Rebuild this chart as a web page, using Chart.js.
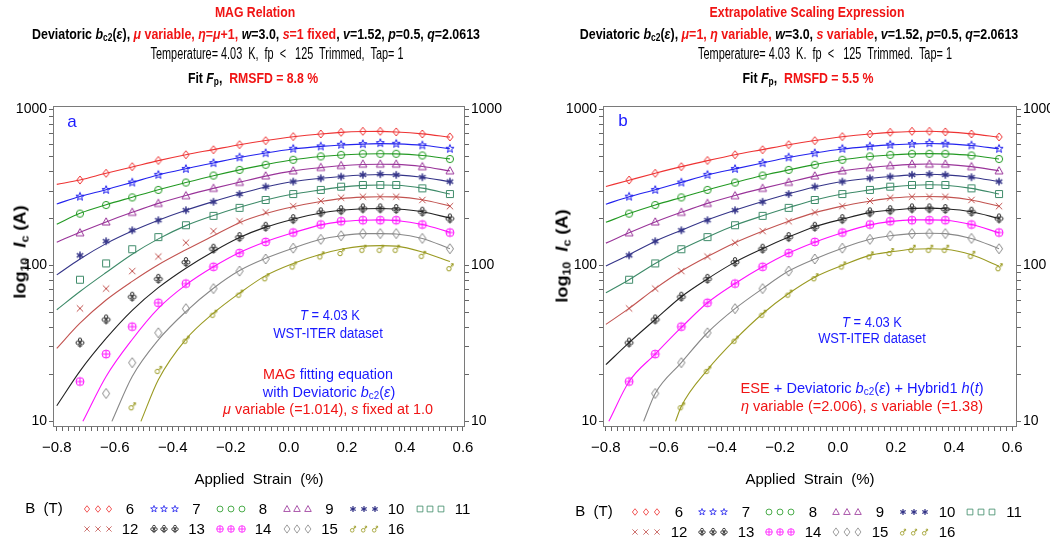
<!DOCTYPE html>
<html>
<head>
<meta charset="utf-8">
<script src="https://cdn.jsdelivr.net/npm/chart.js@4.4.0/dist/chart.umd.min.js"></script>
<style>
body { margin: 0; background: #fff; width: 1050px; height: 541px; position: relative; overflow: hidden;
       font-family: "Liberation Sans", Arial, sans-serif; color: #000; }
canvas { position: absolute; top: 0; }
.t { position: absolute; white-space: nowrap; line-height: 1; }
.b { font-weight: bold; }
.r { color: #f01414; }
.bl { color: #1a1aff; }
sub { font-size: 68%; vertical-align: -0.25em; line-height: 0; }
</style>
</head>
<body>
<canvas id="panelA" width="525" height="541" style="left:0"></canvas>
<canvas id="panelB" width="525" height="541" style="left:525px"></canvas>

<!-- panel a titles -->
<div class="t b r" data-x="255" data-y="11" data-w="80" style="font-size:15px">MAG Relation</div>
<div class="t b" data-x="256" data-y="33" data-w="448" style="font-size:15px">Deviatoric <i>b</i><sub>c2</sub>(<i>ε</i>), <span class="r"><i>μ</i> variable, <i>η</i>=<i>μ</i>+1,</span> <i>w</i>=3.0, <span class="r"><i>s</i>=1 fixed</span>, <i>v</i>=1.52, <i>p</i>=0.5, <i>q</i>=2.0613</div>
<div class="t" data-x="277" data-y="54" data-w="253" style="font-size:16px">Temperature= 4.03&nbsp; K,&nbsp; fp&nbsp; &lt;&nbsp;&nbsp; 125&nbsp; Trimmed,&nbsp; Tap= 1</div>
<div class="t b" data-x="253" data-y="77" data-w="130" style="font-size:15px">Fit <i>F</i><sub>p</sub>,&nbsp; <span class="r">RMSFD = 8.8 %</span></div>

<!-- panel b titles -->
<div class="t b r" data-x="807" data-y="11" data-w="195" style="font-size:15px">Extrapolative Scaling Expression</div>
<div class="t b" data-x="799" data-y="33" data-w="438" style="font-size:15px">Deviatoric <i>b</i><sub>c2</sub>(<i>ε</i>), <span class="r"><i>μ</i>=1, <i>η</i> variable,</span> <i>w</i>=3.0, <span class="r"><i>s</i> variable</span>, <i>v</i>=1.52, <i>p</i>=0.5, <i>q</i>=2.0613</div>
<div class="t" data-x="825" data-y="54" data-w="254" style="font-size:16px">Temperature= 4.03&nbsp; K.&nbsp; fp&nbsp; &lt;&nbsp;&nbsp; 125&nbsp; Trimmed.&nbsp; Tap= 1</div>
<div class="t b" data-x="808" data-y="77" data-w="131" style="font-size:15px">Fit <i>F</i><sub>p</sub>,&nbsp; <span class="r">RMSFD = 5.5 %</span></div>

<!-- y axis titles -->
<div class="t b" data-x="20" data-y="252" data-w="93" data-rot="1" style="font-size:17px">log<sub>10</sub>&nbsp; <i>I</i><sub>c</sub> (A)</div>
<div class="t b" data-x="562" data-y="256" data-w="93" data-rot="1" style="font-size:17px">log<sub>10</sub>&nbsp; <i>I</i><sub>c</sub> (A)</div>

<!-- panel labels and notes -->
<div class="t bl" data-x="72" data-y="121" style="font-size:17px">a</div>
<div class="t bl" data-x="623" data-y="120" style="font-size:17px">b</div>

<div class="t bl" data-x="330" data-y="315" data-w="60" style="font-size:14px"><i>T</i> = 4.03 K</div>
<div class="t bl" data-x="328" data-y="333" data-w="110" style="font-size:14px">WST-ITER dataset</div>
<div class="t bl" data-x="328" data-y="373" data-w="130" style="font-size:15px"><span class="r">MAG</span> fitting equation</div>
<div class="t bl" data-x="329" data-y="391" data-w="132" style="font-size:15px">with Deviatoric <i>b</i><sub>c2</sub>(<i>ε</i>)</div>
<div class="t r" data-x="328" data-y="408" data-w="210" style="font-size:15px"><i>μ</i> variable (=1.014), <i>s</i> fixed at 1.0</div>

<div class="t bl" data-x="872" data-y="322" data-w="60" style="font-size:14px"><i>T</i> = 4.03 K</div>
<div class="t bl" data-x="872" data-y="338" data-w="108" style="font-size:14px">WST-ITER dataset</div>
<div class="t bl" data-x="862" data-y="387" data-w="243" style="font-size:15px"><span class="r">ESE</span> + Deviatoric <i>b</i><sub>c2</sub>(<i>ε</i>) + Hybrid1 <i>h</i>(<i>t</i>)</div>
<div class="t r" data-x="862" data-y="405" data-w="242" style="font-size:15px"><i>η</i> variable (=2.006), <i>s</i> variable (=1.38)</div>

<script>
// applied strain (%) of the measured points
const strain = [-0.72, -0.63, -0.54, -0.45, -0.355, -0.26, -0.17, -0.08, 0.015, 0.11, 0.18, 0.255, 0.315, 0.37, 0.46, 0.555];
const fields = [6, 7, 8, 9, 10, 11, 12, 13, 14, 15, 16];

// measured Ic (A) per field (T)
const ic6  = [353, 390, 430, 471, 513, 552, 595, 631, 670, 697, 714, 725, 725, 718, 697, 667];
const ic7  = [276, 305, 340, 381, 416, 453, 493, 525, 560, 580, 594, 600, 609, 603, 589, 560];
const ic8  = [215, 244, 273, 305, 340, 377, 410, 442, 476, 500, 512, 520, 520, 520, 507, 481];
const ic9  = [162, 190, 219, 250, 280, 312, 341, 375, 404, 425, 437, 446, 446, 446, 430, 404];
const ic10 = [116, 143, 168, 195, 226, 256, 287, 320, 345, 362, 371, 381, 385, 381, 368, 345];
const ic11 = [81, 103, 127, 152, 181, 208, 234, 263, 287, 305, 320, 328, 328, 328, 312, 287];
const ic12 = [53, 71, 92, 114, 140, 166, 192, 219, 240, 259, 272, 276, 276, 276, 263, 240];
const ic13 = [32, 45, 63, 82, 105, 128, 152, 177, 198, 219, 226, 232, 232, 230, 221, 200];
const ic14 = [18, 27, 40.5, 57.6, 76.5, 98, 120, 141.5, 162.5, 183, 192, 195, 195, 195, 183, 162.5];
const ic15 = [null, 15.1, 23.8, 37, 52.8, 71, 92, 110, 129, 147, 155, 160, 160, 160, 149, 128];
const ic16 = [null, null, 12.5, 21.4, 33.4, 49, 66, 84, 100, 116, 122, 128, 128, 128, 117, 97.5];

// fitted curves: first value sits at the line's start strain, the rest at the strains above
const startA = [-0.8, -0.8, -0.8, -0.8, -0.8, -0.8, -0.8, -0.8, -0.71, -0.61, -0.51];
const fitA6  = [331, 353, 390, 428, 470, 513, 553, 594, 632, 668, 697, 713, 722, 724, 718, 698, 665];
const fitA7  = [248, 277, 306, 341, 380, 417, 454, 492, 526, 558, 580, 592, 600, 604, 602, 590, 560];
const fitA8  = [184, 216, 245, 274, 306, 340, 376, 410, 443, 476, 499, 511, 518, 520, 519, 507, 482];
const fitA9  = [141, 163, 190, 219, 250, 281, 312, 342, 374, 404, 424, 436, 444, 446, 445, 431, 404];
const fitA10 = [87, 110, 138, 166, 195, 226, 257, 288, 318, 345, 362, 372, 380, 383, 381, 368, 344];
const fitA11 = [52, 68, 90, 118, 148, 180, 209, 236, 263, 287, 305, 318, 326, 328, 327, 313, 287];
const fitA12 = [29.4, 42.6, 60, 79, 101, 126, 155, 188, 215, 238, 257, 268, 274, 276, 275, 264, 241];
const fitA13 = [12.6, 21, 34, 51.5, 72, 96, 123, 151, 176, 198, 217, 226, 231, 232, 230, 221, 201];
const fitA14 = [10, null, 19.4, 33.5, 53, 75, 98, 121, 142, 162, 182, 191, 195, 196, 194, 183, 163];
const fitA15 = [10, null, null, 19.4, 33.3, 50.6, 71.4, 92.7, 111, 129, 147, 155, 160, 160, 159, 149, 128];
const fitA16 = [10, null, null, null, 18.5, 33.6, 49.4, 66.4, 86, 103, 118, 127, 133, 134, 133, 122, 106];

const startB = [-0.8, -0.8, -0.8, -0.8, -0.8, -0.8, -0.8, -0.8, -0.79, -0.67, -0.56];
const fitB6  = [321, 352, 390, 430, 470, 513, 553, 594, 632, 668, 697, 713, 723, 725, 719, 698, 666];
const fitB7  = [247, 276, 306, 341, 380, 416, 454, 492, 526, 558, 580, 593, 601, 605, 602, 588, 560];
const fitB8  = [189, 215, 244, 273, 305, 340, 377, 410, 443, 476, 499, 511, 519, 521, 519, 507, 481];
const fitB9  = [139, 162, 190, 219, 250, 281, 312, 342, 374, 404, 424, 436, 445, 447, 445, 430, 404];
const fitB10 = [99, 117, 143, 168, 196, 226, 257, 288, 318, 345, 362, 372, 381, 384, 381, 368, 345];
const fitB11 = [66.7, 81, 103, 127, 152, 181, 208, 235, 263, 287, 305, 318, 327, 329, 327, 312, 287];
const fitB12 = [41.9, 53, 71, 92, 114, 140, 166, 192, 218, 240, 258, 270, 276, 277, 275, 263, 240];
const fitB13 = [23.1, 32, 45, 63, 82, 105, 128, 152, 177, 198, 218, 226, 232, 233, 231, 221, 200];
const fitB14 = [10, 18, 27, 40, 57.6, 76.5, 98, 120, 141, 162, 182, 191, 196, 196, 195, 183, 162];
const fitB15 = [10, null, 15.1, 23.8, 37, 52.8, 71, 92, 110, 129, 147, 155, 160, 161, 160, 149, 128];
const fitB16 = [10, null, null, 12.5, 21.4, 33.4, 49, 66, 84, 100, 116, 122, 127, 128, 127, 117, 99];

// axis ticks
const yTicks = [10, 20, 30, 40, 50, 60, 70, 80, 90, 100, 200, 300, 400, 500, 600, 700, 800, 900, 1000];
const yLabels = [10, 100, 1000];
const xMajor = [-0.8, -0.6, -0.4, -0.2, 0.0, 0.2, 0.4, 0.6];

const series = [
  { ic: ic6,  a: fitA6,  b: fitB6,  shape: 'diamond',  color: '#ee3333' },
  { ic: ic7,  a: fitA7,  b: fitB7,  shape: 'star',     color: '#2222ee' },
  { ic: ic8,  a: fitA8,  b: fitB8,  shape: 'circle',   color: '#229922' },
  { ic: ic9,  a: fitA9,  b: fitB9,  shape: 'triangle', color: '#993399' },
  { ic: ic10, a: fitA10, b: fitB10, shape: 'asterisk', color: '#343488' },
  { ic: ic11, a: fitA11, b: fitB11, shape: 'square',   color: '#3d8a68' },
  { ic: ic12, a: fitA12, b: fitB12, shape: 'x',        color: '#c25350' },
  { ic: ic13, a: fitA13, b: fitB13, shape: 'club',     color: '#222222' },
  { ic: ic14, a: fitA14, b: fitB14, shape: 'oplus',    color: '#ff11ff' },
  { ic: ic15, a: fitA15, b: fitB15, shape: 'tdiamond', color: '#888888' },
  { ic: ic16, a: fitA16, b: fitB16, shape: 'male',     color: '#9a9a22' }
];

function makeMarker(shape, color, k) {
  const s = Math.ceil(14 * k);
  const c = document.createElement('canvas');
  c.width = s; c.height = s;
  const g = c.getContext('2d');
  g.translate(s / 2, s / 2);
  g.scale(k, k);
  g.strokeStyle = color;
  g.fillStyle = color;
  g.lineWidth = 1;
  g.beginPath();
  if (shape === 'diamond') {
    g.moveTo(0, -4); g.lineTo(3.2, 0); g.lineTo(0, 4); g.lineTo(-3.2, 0); g.closePath();
  } else if (shape === 'tdiamond') {
    g.moveTo(0, -5); g.lineTo(3.6, 0); g.lineTo(0, 5); g.lineTo(-3.6, 0); g.closePath();
  } else if (shape === 'star') {
    for (let i = 0; i < 10; i++) {
      const r = i % 2 ? 1.8 : 4.3;
      const t = -Math.PI / 2 + i * Math.PI / 5;
      if (i === 0) g.moveTo(r * Math.cos(t), r * Math.sin(t)); else g.lineTo(r * Math.cos(t), r * Math.sin(t));
    }
    g.closePath();
  } else if (shape === 'circle') {
    g.arc(0, 0, 3.6, 0, Math.PI * 2);
  } else if (shape === 'triangle') {
    g.moveTo(0, -4.2); g.lineTo(4, 3); g.lineTo(-4, 3); g.closePath();
  } else if (shape === 'asterisk') {
    g.lineWidth = 1.5;
    for (let i = 0; i < 3; i++) {
      const t = Math.PI / 2 + i * Math.PI / 3;
      g.moveTo(-3.8 * Math.cos(t), -3.8 * Math.sin(t)); g.lineTo(3.8 * Math.cos(t), 3.8 * Math.sin(t));
    }
  } else if (shape === 'square') {
    g.rect(-3.5, -3.5, 7, 7);
  } else if (shape === 'x') {
    g.moveTo(-3.2, -3.2); g.lineTo(3.2, 3.2); g.moveTo(-3.2, 3.2); g.lineTo(3.2, -3.2);
  } else if (shape === 'club') {
    g.arc(0, -2.8, 1.7, 0, Math.PI * 2);
    g.moveTo(-0.6, 0.2); g.arc(-2.3, 0.2, 1.7, 0, Math.PI * 2);
    g.moveTo(4, 0.2); g.arc(2.3, 0.2, 1.7, 0, Math.PI * 2);
    g.moveTo(0, -1); g.lineTo(0, 5); g.moveTo(-2.2, 3.2); g.lineTo(2.2, 3.2);
  } else if (shape === 'oplus') {
    g.arc(0, 0, 4, 0, Math.PI * 2);
    g.moveTo(-4, 0); g.lineTo(4, 0); g.moveTo(0, -4); g.lineTo(0, 4);
  } else if (shape === 'male') {
    g.arc(-1, 1.6, 2.2, 0, Math.PI * 2);
    g.moveTo(0.6, 0); g.lineTo(3.2, -3.4);
    g.moveTo(1.2, -3.4); g.lineTo(3.2, -3.4); g.lineTo(3.2, -1.4);
    g.moveTo(0.8, -2.4); g.lineTo(2.6, -0.8);
  }
  g.stroke();
  return c;
}

series.forEach(s => {
  s.mark = makeMarker(s.shape, s.color, 1);
  s.small = makeMarker(s.shape, s.color, 0.82);
});

const framePlugin = {
  id: 'frame',
  afterDatasetsDraw(chart) {
    const { ctx, chartArea: a } = chart;
    ctx.save();
    ctx.strokeStyle = '#7a7a7a';
    ctx.lineWidth = 1;
    ctx.strokeRect(Math.round(a.left) + 0.5, Math.round(a.top) + 0.5,
                   Math.round(a.right - a.left) - 1, Math.round(a.bottom - a.top) - 1);
    ctx.restore();
  }
};

// B (T) key under each panel
const keyPlugin = {
  id: 'key',
  afterDraw(chart, args, opts) {
    const ctx = chart.ctx;
    ctx.save();
    ctx.fillStyle = '#000';
    ctx.textAlign = 'center';
    ctx.textBaseline = 'middle';
    ctx.font = '15px "Liberation Sans", Arial, sans-serif';
    ctx.fillText('B  (T)', opts.titleX, opts.rows[0]);
    series.forEach((s, i) => {
      const row = i < 6 ? 0 : 1;
      const col = i < 6 ? i : i - 6;
      const y = opts.rows[row];
      const x0 = opts.markX + col * opts.step;
      for (let j = 0; j < 3; j++) {
        ctx.drawImage(s.small, Math.round(x0 + j * 10.8 - s.small.width / 2), Math.round(y - s.small.height / 2));
      }
      ctx.fillText(String(fields[i]), opts.labelX + col * opts.step, y + 1);
    });
    ctx.restore();
  }
};

function xLabel(v) {
  const r = Math.round(v * 5);
  if (Math.abs(v * 5 - r) > 1e-6) return '';
  return (r / 5).toFixed(1).replace('-', '\u2212');
}

function buildPanel(id, fitKey, starts, xr, leftW, rightW, key) {
  const datasets = [];
  series.forEach((s, i) => {
    const fit = s[fitKey];
    const line = [{ x: starts[i], y: fit[0] }]
      .concat(strain.map((x, j) => ({ x: x, y: fit[j + 1] })))
      .filter(p => p.y != null);
    datasets.push({
      data: line, showLine: true, pointRadius: 0, borderColor: s.color, borderWidth: 1.1,
      cubicInterpolationMode: 'monotone'
    });
  });
  series.forEach(s => {
    datasets.push({
      data: strain.map((x, j) => ({ x: x, y: s.ic[j] })).filter(p => p.y != null),
      showLine: false, pointStyle: s.mark, pointRadius: 4, borderColor: s.color, backgroundColor: s.color
    });
  });
  const tickFont = { family: '"Liberation Sans", Arial, sans-serif', size: 14 };
  const grid = { drawOnChartArea: false, drawTicks: true, tickLength: 4, tickColor: '#666', tickWidth: 1 };
  const yTickSet = s => { s.ticks = yTicks.map(v => ({ value: v })); };
  const yLab = v => (yLabels.includes(v) ? String(v) : '');
  return new Chart(document.getElementById(id), {
    type: 'scatter',
    data: { datasets: datasets },
    plugins: [framePlugin, keyPlugin],
    options: {
      responsive: false,
      animation: false,
      layout: { padding: { top: 106, bottom: 46, left: 0, right: 0 } },
      plugins: { legend: { display: false }, tooltip: { enabled: false }, key: key },
      scales: {
        x: {
          type: 'linear', min: xr[0], max: xr[1],
          grid: grid, border: { display: false },
          afterBuildTicks: s => {
            const t = [];
            for (let i = -40; i <= 30; i++) t.push({ value: i / 50 });
            s.ticks = t;
          },
          afterFit: s => { s.height = 68; },
          ticks: { autoSkip: false, maxRotation: 0, padding: 8, color: '#000',
                   font: { family: tickFont.family, size: 15 }, callback: xLabel },
          title: { display: true, text: 'Applied  Strain  (%)', color: '#000',
                   font: { family: tickFont.family, size: 15 }, padding: { top: 0, bottom: 6 } }
        },
        y: {
          type: 'logarithmic', position: 'left', min: 9.2, max: 1053,
          grid: grid, border: { display: false },
          afterBuildTicks: yTickSet,
          afterFit: s => { s.width = leftW; },
          ticks: { autoSkip: false, padding: 2, color: '#000', font: tickFont, callback: yLab }
        },
        y2: {
          type: 'logarithmic', position: 'right', min: 9.2, max: 1053,
          grid: grid, border: { display: false },
          afterBuildTicks: yTickSet,
          afterFit: s => { s.width = rightW; },
          ticks: { autoSkip: false, padding: 2, color: '#000', font: tickFont, callback: yLab }
        }
      }
    }
  });
}

buildPanel('panelA', 'a', startA, [-0.813, 0.607], 53, 60,
  { titleX: 44, rows: [509, 529], markX: 87, labelX: 130, step: 66.5 });
buildPanel('panelB', 'b', startB, [-0.81, 0.617], 78, 33,
  { titleX: 69, rows: [512, 532], markX: 110, labelX: 154, step: 67 });

// place the html text blocks, squeezed to the widths measured in the picture
document.querySelectorAll('.t').forEach(el => {
  el.style.left = el.dataset.x + 'px';
  el.style.top = el.dataset.y + 'px';
  const k = el.dataset.w ? (+el.dataset.w) / el.offsetWidth : 1;
  const rot = el.dataset.rot ? ' rotate(-90deg)' : '';
  el.style.transform = 'translate(-50%,-50%)' + rot + ' scaleX(' + k.toFixed(3) + ')';
});
</script>
</body>
</html>
